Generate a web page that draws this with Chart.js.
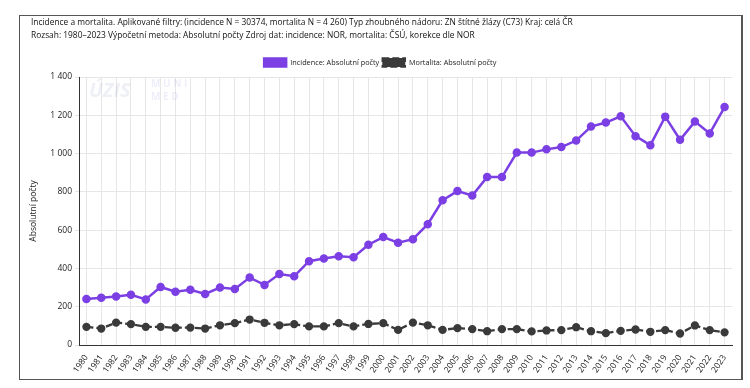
<!DOCTYPE html>
<html>
<head>
<meta charset="utf-8">
<script src="https://cdn.jsdelivr.net/npm/chart.js@4.4.1/dist/chart.umd.min.js"></script>
<style>
  html, body { margin: 0; padding: 0; background: #fff; }
  #frame { position: absolute; left: 19px; top: 15px; width: 721px; height: 363px; border: 1px solid #555; border-right-width: 2px; background: #fff; }
  #frame canvas { display: block; }
</style>
</head>
<body>
<div id="frame"><canvas id="c"></canvas></div>
<script>
const years = ["1980","1981","1982","1983","1984","1985","1986","1987","1988","1989","1990","1991","1992","1993","1994","1995","1996","1997","1998","1999","2000","2001","2002","2003","2004","2005","2006","2007","2008","2009","2010","2011","2012","2013","2014","2015","2016","2017","2018","2019","2020","2021","2022","2023"];
const incidence = [240,247,253,262,238,303,278,288,267,300,293,352,314,371,359,438,452,464,459,524,564,534,553,631,756,804,781,877,877,1005,1005,1022,1034,1068,1141,1162,1195,1091,1044,1193,1072,1167,1105,1243];
const mortality = [95,86,117,109,95,95,90,91,86,103,114,133,116,103,109,97,97,114,97,110,114,79,117,103,79,88,83,72,83,83,71,76,78,93,72,62,74,81,69,78,60,102,78,66];
const titleLines = [
  "Incidence a mortalita. Aplikované filtry: (incidence N = 30374, mortalita N = 4 260) Typ zhoubného nádoru: ZN štítné žlázy (C73) Kraj: celá ČR",
  "Rozsah: 1980–2023 Výpočetní metoda: Absolutní počty Zdroj dat: incidence: NOR, mortalita: ČSÚ, korekce dle NOR"
];
const seriesNames = ["Incidence: Absolutní počty", "Mortalita: Absolutní počty"];
const yTitle = "Absolutní počty";
const yTicks = { min: 0, max: 1400, step: 200 };

const FONT = "'Open Sans', 'Noto Sans', sans-serif";

const headerTitle = {
  id: 'headerTitle',
  afterDraw(chart) {
    const ctx = chart.ctx;
    ctx.save();
    ctx.fillStyle = '#111';
    ctx.font = "8.4px " + FONT;
    ctx.textBaseline = 'middle';
    ctx.textAlign = 'left';
    titleLines.forEach((t, i) => ctx.fillText(t, 11, 7 + i * 13));
    ctx.restore();
  }
};

const watermark = {
  id: 'watermark',
  beforeDatasetsDraw(chart) {
    const ctx = chart.ctx, a = chart.chartArea;
    ctx.save();
    ctx.fillStyle = 'rgba(170,180,210,0.2)';
    ctx.font = "italic bold 20px " + FONT;
    ctx.textBaseline = 'top';
    ctx.fillText('ÚZIS', a.left + 10, a.top + 4);
    ctx.fillStyle = 'rgba(160,160,230,0.18)';
    ctx.font = "bold 10px " + FONT;
    ctx.fillText('M U N I', a.left + 72, a.top + 2);
    ctx.fillText('M E D', a.left + 72, a.top + 15);
    ctx.restore();
  }
};

Chart.defaults.font.family = FONT;
Chart.defaults.font.size = 8.5;
Chart.defaults.color = '#222';

new Chart(document.getElementById('c'), {
  type: 'line',
  data: {
    labels: years,
    datasets: [
      {
        label: seriesNames[0],
        data: incidence,
        borderColor: '#7b3fe4',
        backgroundColor: '#7b3fe4',
        borderWidth: 2.5,
        pointRadius: 3,
        pointHoverRadius: 3,
        pointBackgroundColor: '#7b3fe4',
        pointBorderColor: '#7b3fe4',
        tension: 0
      },
      {
        label: seriesNames[1],
        data: mortality,
        borderColor: '#3a3a3a',
        backgroundColor: '#3a3a3a',
        borderWidth: 2.3,
        borderDash: [7, 3],
        pointRadius: 3,
        pointHoverRadius: 3,
        pointBackgroundColor: '#3a3a3a',
        pointBorderColor: '#3a3a3a',
        tension: 0
      }
    ]
  },
  options: {
    responsive: true,
    maintainAspectRatio: false,
    animation: false,
    layout: { padding: { left: 0, right: 1, top: 39, bottom: 0 } },
    plugins: {
      title: { display: false },
      legend: {
        display: true,
        position: 'top',
        labels: {
          boxWidth: 23,
          boxHeight: 9,
          padding: 3,
          color: '#222',
          font: { size: 7.3 },
          generateLabels(chart) {
            const items = Chart.defaults.plugins.legend.labels.generateLabels(chart);
            items.forEach(it => { it.lineWidth = 1.5; });
            return items;
          }
        }
      },
      tooltip: { enabled: false }
    },
    scales: {
      x: {
        offset: true,
        grid: { display: true, color: '#e6e6e6', lineWidth: 1, offset: false, drawTicks: false },
        border: { display: true, color: '#333', width: 1 },
        ticks: { maxRotation: 55, minRotation: 55, autoSkip: false, color: '#222', font: { size: 8.5 }, padding: 8 },
        afterFit(s) { s.height = 34; }
      },
      y: {
        min: yTicks.min,
        max: yTicks.max,
        grid: { color: '#e6e6e6', lineWidth: 1, drawTicks: true, tickLength: 4 },
        border: { display: true, color: '#333', width: 1 },
        ticks: {
          stepSize: yTicks.step,
          color: '#222',
          font: { size: 8.5 },
          padding: 3,
          callback: v => String(v).replace(/\B(?=(\d{3})+(?!\d))/g, ' ')
        },
        title: { display: true, text: yTitle, color: '#222', font: { size: 8.5 }, padding: { top: 8, bottom: 0 } },
        afterFit(s) { s.width = 59; }
      }
    }
  },
  plugins: [watermark, headerTitle]
});
</script>
</body>
</html>
